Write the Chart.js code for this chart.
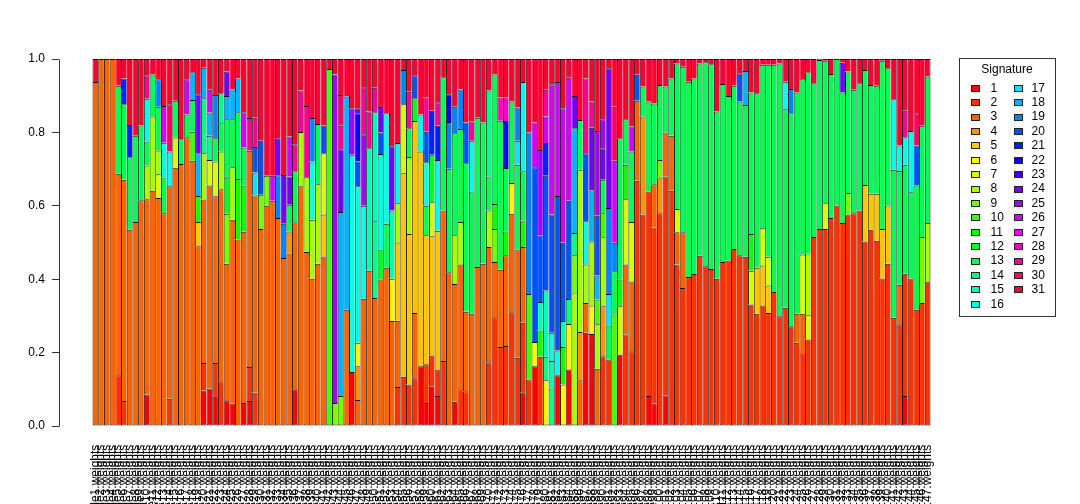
<!DOCTYPE html>
<html>
<head>
<meta charset="utf-8">
<script src="https://cdn.jsdelivr.net/npm/chart.js@4/dist/chart.umd.min.js"></script>
<style>
html,body{margin:0;padding:0;background:#ffffff;}
#wrap{width:1080px;height:504px;position:relative;overflow:hidden;}
</style>
</head>
<body>
<div id="wrap"><canvas id="c" width="1080" height="504"></canvas></div>
<script>
// ---------------- data ----------------
const signatures = ['1','2','3','4','5','6','7','8','9','10','11','12','13','14','15','16',
  '17','18','19','20','21','22','23','24','25','26','27','28','29','30','31'];

const signatureColors = ['#FF0000','#FF3100','#FF6300','#FF9400','#FFC500','#FFF700','#D6FF00','#A5FF00',
  '#73FF00','#42FF00','#10FF00','#00FF21','#00FF52','#00FF84','#00FFB5','#00FFE6','#00E6FF','#00B5FF',
  '#0084FF','#0052FF','#0021FF','#1000FF','#4200FF','#7300FF','#A500FF','#D600FF','#FF00F7','#FF00C5',
  '#FF0094','#FF0063','#FF0031'];

const yTickValues = [0, 0.2, 0.4, 0.6, 0.8, 1.0];

// each bar: [signature, cumulative proportion at top of that signature's block], bottom to top
const barSegments = [
 [[3,.937],[31,1]],
 [[3,1]],
 [[3,1]],
 [[3,1]],
 [[2,.138],[3,.687],[13,.927],[31,1]],
 [[2,.068],[3,.671],[13,.877],[21,.947],[31,1]],
 [[3,.535],[13,.732],[21,.820],[31,1]],
 [[3,.556],[13,.791],[31,1]],
 [[3,.615],[13,.819],[31,1]],
 [[1,.086],[3,.618],[8,.710],[13,.775],[16,.892],[29,.956],[31,1]],
 [[3,.641],[8,.843],[13,.958],[31,1]],
 [[3,.621],[7,.686],[8,.751],[13,.870],[19,.945],[31,1]],
 [[3,.580],[13,.677],[16,.772],[26,.872],[31,1]],
 [[2,.074],[3,.653],[16,.748],[30,.877],[31,1]],
 [[3,.704],[7,.786],[13,.886],[31,1]],
 [[3,.714],[13,.781],[31,1]],
 [[3,.787],[13,.849],[26,.945],[31,1]],
 [[3,.723],[10,.802],[13,.888],[18,.964],[31,1]],
 [[3,.490],[5,.556],[11,.627],[18,.743],[24,.904],[31,1]],
 [[1,.097],[2,.172],[3,.617],[8,.743],[14,.893],[18,.976],[31,1]],
 [[1,.102],[3,.655],[7,.725],[14,.791],[18,.854],[26,.916],[31,1]],
 [[1,.084],[2,.172],[3,.626],[7,.721],[13,.784],[19,.902],[31,1]],
 [[2,.122],[3,.645],[8,.748],[13,.825],[14,.907],[31,1]],
 [[1,.070],[3,.442],[9,.578],[12,.675],[13,.836],[18,.899],[24,.966],[31,1]],
 [[1,.061],[3,.562],[8,.705],[13,.836],[18,.917],[31,1]],
 [[3,.508],[11,.673],[13,.855],[18,.947],[31,1]],
 [[1,.063],[3,.529],[11,.655],[13,.759],[26,.855],[31,1]],
 [[1,.068],[2,.161],[3,.750],[29,.839],[31,1]],
 [[2,.091],[3,.628],[17,.691],[20,.760],[29,.840],[31,1]],
 [[3,.537],[9,.630],[20,.777],[31,1]],
 [[3,.600],[9,.682],[31,1]],
 [[3,.614],[26,.682],[31,1]],
 [[3,.567],[19,.683],[24,.784],[31,1]],
 [[3,.458],[19,.551],[24,.684],[31,1]],
 [[3,.470],[4,.530],[13,.603],[24,.680],[26,.789],[31,1]],
 [[1,.100],[3,.555],[13,.694],[29,.768],[31,1]],
 [[3,.653],[8,.801],[29,.914],[31,1]],
 [[3,.474],[8,.678],[29,.872],[31,1]],
 [[3,.401],[8,.562],[16,.721],[19,.839],[31,1]],
 [[3,.442],[8,.659],[13,.823],[31,1]],
 [[3,.462],[5,.576],[7,.743],[20,.819],[31,1]],
 [[10,.973],[31,1]],
 [[9,.063],[25,.958],[31,1]],
 [[9,.082],[18,.583],[24,.754],[29,.818],[30,.902],[31,1]],
 [[3,.317],[18,.898],[31,1]],
 [[1,.147],[16,.739],[25,.866],[31,1]],
 [[3,.071],[4,.163],[6,.227],[16,.653],[20,.721],[22,.852],[24,.866],[31,1]],
 [[3,.347],[16,.600],[25,.795],[29,.923],[31,1]],
 [[3,.423],[15,.757],[29,.857],[31,1]],
 [[3,.349],[14,.558],[15,.855],[29,.922],[31,1]],
 [[3,.399],[12,.481],[16,.741],[20,.800],[24,.869],[31,1]],
 [[3,.431],[13,.551],[16,.852],[31,1]],
 [[3,.286],[6,.401],[15,.587],[24,.762],[31,1]],
 [[2,.106],[3,.287],[5,.500],[8,.607],[16,.771],[31,1]],
 [[2,.134],[5,.689],[7,.877],[19,.970],[31,1]],
 [[2,.113],[5,.523],[8,.733],[13,.811],[29,.911],[31,1]],
 [[2,.130],[3,.308],[5,.831],[12,.893],[20,.956],[31,1]],
 [[1,.163],[5,.748],[16,.849],[31,1]],
 [[1,.063],[2,.168],[5,.520],[13,.600],[16,.719],[20,.802],[29,.895],[31,1]],
 [[1,.107],[2,.192],[5,.517],[7,.610],[12,.739],[21,.859],[31,1]],
 [[1,.082],[2,.154],[5,.532],[16,.725],[21,.818],[29,.882],[31,1]],
 [[2,.177],[3,.587],[13,.950],[31,1]],
 [[3,.419],[13,.701],[19,.828],[22,.904],[31,1]],
 [[1,.066],[3,.387],[8,.520],[13,.798],[19,.870],[31,1]],
 [[2,.100],[3,.440],[8,.556],[13,.809],[19,.917],[31,1]],
 [[2,.095],[3,.311],[13,.716],[20,.827],[31,1]],
 [[3,.306],[13,.639],[16,.777],[29,.830],[31,1]],
 [[3,.433],[13,.840],[31,1]],
 [[3,.442],[13,.827],[31,1]],
 [[2,.174],[3,.488],[8,.587],[13,.680],[14,.914],[31,1]],
 [[2,.296],[3,.447],[9,.537],[11,.605],[13,.958],[31,1]],
 [[2,.215],[3,.426],[13,.832],[28,.895],[31,1]],
 [[2,.218],[3,.465],[11,.530],[13,.703],[22,.831],[28,.895],[31,1]],
 [[2,.310],[3,.578],[6,.662],[13,.884],[31,1]],
 [[2,.186],[3,.481],[13,.712],[17,.777],[19,.868],[31,1]],
 [[1,.092],[2,.281],[3,.488],[11,.560],[13,.694],[16,.937],[31,1]],
 [[2,.127],[10,.360],[19,.800],[31,1]],
 [[1,.163],[6,.229],[20,.705],[26,.827],[31,1]],
 [[2,.189],[11,.260],[15,.338],[20,.519],[25,.752],[31,1]],
 [[6,.125],[14,.189],[15,.369],[20,.682],[21,.771],[26,.843],[29,.916],[31,1]],
 [[14,.102],[15,.177],[16,.254],[20,.576],[26,.931],[31,1]],
 [[1,.138],[16,.206],[20,.627],[26,.937],[31,1]],
 [[6,.113],[11,.215],[15,.286],[20,.499],[26,.866],[31,1]],
 [[1,.154],[6,.278],[14,.346],[20,.614],[26,.949],[31,1]],
 [[8,.364],[9,.465],[14,.526],[18,.811],[24,.899],[31,1]],
 [[3,.125],[4,.256],[8,.698],[13,.834],[31,1]],
 [[1,.254],[3,.335],[8,.440],[16,.558],[20,.743],[29,.947],[31,1]],
 [[1,.251],[6,.328],[8,.503],[18,.642],[24,.813],[29,.884],[31,1]],
 [[3,.156],[8,.277],[10,.345],[18,.410],[20,.573],[25,.804],[31,1]],
 [[2,.190],[4,.326],[8,.514],[10,.580],[13,.671],[24,.757],[25,.836],[31,1]],
 [[2,.181],[13,.274],[17,.360],[19,.594],[24,.975],[31,1]],
 [[10,.304],[13,.422],[19,.499],[26,.723],[30,.870],[31,1]],
 [[1,.195],[7,.326],[11,.399],[13,.784],[31,1]],
 [[2,.249],[3,.440],[7,.618],[11,.712],[13,.836],[31,1]],
 [[2,.204],[3,.394],[7,.556],[13,.748],[26,.816],[31,1]],
 [[2,.668],[3,.886],[20,.957],[31,1]],
 [[2,.576],[4,.843],[13,.925],[31,1]],
 [[1,.082],[2,.639],[13,.884],[31,1]],
 [[1,.061],[2,.541],[3,.659],[13,.879],[31,1]],
 [[2,.580],[4,.677],[9,.725],[13,.929],[31,1]],
 [[1,.083],[2,.680],[3,.800],[13,.925],[31,1]],
 [[2,.641],[3,.791],[13,.947],[31,1]],
 [[2,.440],[3,.528],[7,.591],[13,.988],[31,1]],
 [[2,.376],[3,.528],[13,.979],[31,1]],
 [[2,.406],[13,.938],[31,1]],
 [[2,.414],[13,.947],[31,1]],
 [[2,.464],[13,.988],[31,1]],
 [[2,.435],[13,.991],[31,1]],
 [[2,.428],[13,.986],[31,1]],
 [[2,.401],[13,.857],[31,1]],
 [[2,.447],[13,.932],[31,1]],
 [[2,.451],[13,.899],[31,1]],
 [[2,.482],[13,.927],[31,1]],
 [[2,.465],[13,.884],[20,.961],[31,1]],
 [[2,.461],[13,.875],[18,.967],[31,1]],
 [[2,.331],[7,.423],[11,.523],[13,.909],[31,1]],
 [[2,.306],[5,.431],[13,.907],[31,1]],
 [[2,.328],[5,.437],[7,.539],[13,.984],[31,1]],
 [[2,.308],[5,.383],[7,.461],[13,.984],[31,1]],
 [[2,.365],[13,.984],[31,1]],
 [[2,.299],[13,.988],[31,1]],
 [[2,.322],[13,.863],[16,.938],[31,1]],
 [[2,.272],[13,.852],[19,.918],[31,1]],
 [[2,.227],[3,.306],[13,.909],[31,1]],
 [[2,.198],[3,.306],[7,.467],[13,.945],[31,1]],
 [[2,.236],[7,.302],[8,.470],[13,.964],[31,1]],
 [[2,.515],[13,.934],[31,1]],
 [[2,.537],[13,.997],[31,1]],
 [[2,.537],[7,.607],[13,.995],[31,1]],
 [[2,.567],[13,.959],[31,1]],
 [[2,.601],[13,1]],
 [[2,.553],[13,.909],[24,.990],[31,1]],
 [[2,.576],[9,.635],[13,.966],[31,1]],
 [[2,.580],[13,.916],[31,1]],
 [[2,.587],[13,.934],[31,1]],
 [[2,.503],[5,.657],[13,.970],[31,1]],
 [[2,.535],[5,.633],[13,.929],[31,1]],
 [[2,.505],[5,.633],[13,.927],[31,1]],
 [[2,.402],[5,.537],[13,.995],[31,1]],
 [[2,.442],[5,.601],[13,.975],[31,1]],
 [[2,.295],[13,.698],[16,.890],[31,1]],
 [[2,.277],[3,.385],[13,.695],[16,.764],[31,1]],
 [[1,.082],[2,.415],[13,.712],[16,.787],[29,.859],[31,1]],
 [[2,.402],[13,.637],[16,.804],[31,1]],
 [[2,.317],[13,.655],[20,.764],[30,.852],[31,1]],
 [[2,.335],[9,.515],[13,.818],[31,1]],
 [[2,.394],[8,.553],[13,.952],[31,1]]
];

// category (sample) labels, unreadable in the reference: "<id>.weights"
const sampleLabels = barSegments.map((_, i) => 'sample' + (i + 1) + '.weights');

// ---------------- build per-signature series ----------------
const N = barSegments.length;
const seriesValues = signatures.map((s, si) => barSegments.map(segs => {
  const k = segs.findIndex(p => p[0] === si + 1);
  if (k < 0) return null;
  const prev = k === 0 ? 0 : segs[k - 1][1];
  const v = segs[k][1] - prev;
  return v > 0 ? v : null;
}));
const bottomSig = barSegments.map(segs => segs[0][0]);

const FONT = "'Liberation Sans', Arial, Helvetica, sans-serif";

const datasets = signatures.map((s, si) => ({
  label: s,
  data: seriesValues[si].map((v, i) => ({x: i + 0.5, y: v})),
  backgroundColor: signatureColors[si],
  borderColor: 'rgba(0,0,0,0.92)',
  borderSkipped: false,
  borderWidth: (ctx) => {
    const i = ctx.dataIndex;
    return {top: 1, left: 1, right: i === N - 1 ? 1 : 0, bottom: bottomSig[i] === si + 1 ? 1 : 0};
  },
  barPercentage: 1,
  categoryPercentage: 1,
  inflateAmount: 0
}));

// y axis line spanning 0..1 only (as in the reference)
const axisLinePlugin = {
  id: 'axisLine',
  afterDraw(chart) {
    const y = chart.scales.y, c = chart.ctx;
    const x = Math.round(y.right) + 0.5;
    c.save();
    c.strokeStyle = '#333';
    c.lineWidth = 1;
    c.beginPath();
    c.moveTo(x, Math.round(y.getPixelForValue(0)) + 0.5);
    c.lineTo(x, Math.round(y.getPixelForValue(1)) + 0.5);
    c.stroke();
    c.restore();
  }
};

// two-column legend in a box (drawn from the datasets)
const legendBoxPlugin = {
  id: 'legendBox',
  afterDraw(chart) {
    const c = chart.ctx;
    const ds = chart.data.datasets;
    const box = {x: 959.5, y: 58.5, w: 96, h: 258};
    c.save();
    c.fillStyle = '#fff';
    c.fillRect(box.x, box.y, box.w, box.h);
    c.strokeStyle = '#333';
    c.lineWidth = 1;
    c.strokeRect(box.x, box.y, box.w, box.h);
    c.fillStyle = '#000';
    c.font = '12px ' + FONT;
    c.textBaseline = 'middle';
    c.textAlign = 'center';
    c.fillText('Signature', 1007, 69.5);
    c.textAlign = 'left';
    const rowH = 14.4, y0 = 87.8;
    ds.forEach((d, i) => {
      const col = i < 16 ? 0 : 1;
      const row = col === 0 ? i : i - 16;
      const yc = y0 + row * rowH;
      const sx = col === 0 ? 971 : 1014;
      const tx = col === 0 ? 990.5 : 1031.5;
      c.fillStyle = d.backgroundColor;
      c.fillRect(sx, Math.round(yc - 3) , 9, 6);
      c.strokeStyle = '#222';
      c.strokeRect(sx + 0.5, Math.round(yc - 3) + 0.5, 8, 6);
      c.fillStyle = '#000';
      c.fillText(d.label, tx, yc + 0.5);
    });
    c.restore();
  }
};

new Chart(document.getElementById('c').getContext('2d'), {
  type: 'bar',
  data: {datasets},
  options: {
    responsive: false,
    animation: false,
    devicePixelRatio: 1,
    layout: {padding: {top: 44.32, right: 116, bottom: 0, left: 0}},
    plugins: {legend: {display: false}, tooltip: {enabled: false}},
    scales: {
      x: {
        type: 'linear',
        stacked: true,
        min: -0.04 * N,
        max: N * 1.04,
        offset: false,
        grid: {display: false, drawTicks: false},
        border: {display: false},
        afterBuildTicks: (axis) => { axis.ticks = sampleLabels.map((_, i) => ({value: i + 0.5})); },
        afterFit: (s) => { s.height = 504 - 440.68; },
        ticks: {
          autoSkip: false, maxRotation: 90, minRotation: 90, padding: 4,
          color: '#000', font: {family: FONT, size: 12},
          callback: (v) => sampleLabels[Math.round(v - 0.5)]
        }
      },
      y: {
        stacked: true,
        min: -0.04,
        max: 1.04,
        afterBuildTicks: (axis) => { axis.ticks = yTickValues.map(v => ({value: v})); },
        afterFit: (s) => { s.width = 59; },
        grid: {display: true, drawOnChartArea: false, drawTicks: true, tickLength: 7, color: '#333', lineWidth: 1},
        border: {display: false},
        ticks: {padding: 7, color: '#000', font: {family: FONT, size: 12}, callback: (v) => Number(v).toFixed(1)}
      }
    }
  },
  plugins: [axisLinePlugin, legendBoxPlugin]
});
</script>
</body>
</html>
